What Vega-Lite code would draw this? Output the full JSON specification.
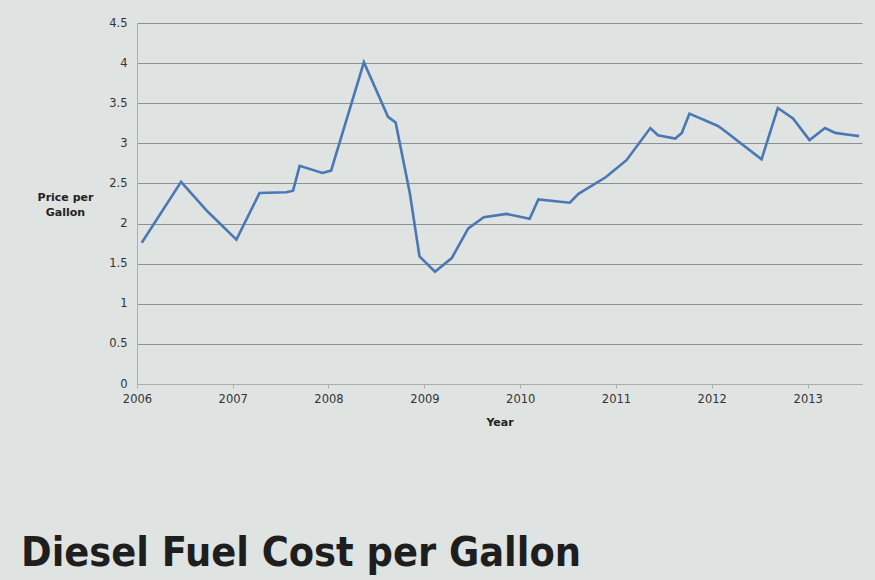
{
  "$schema": "https://vega.github.io/schema/vega-lite/v6.json",
  "width": 725,
  "height": 361,
  "autosize": "none",
  "padding": {"left": 137, "top": 23, "right": 13, "bottom": 196},
  "background": "#dfe3e2",
  "title": {
    "text": "Diesel Fuel Cost per Gallon",
    "orient": "bottom",
    "anchor": "start",
    "frame": "group",
    "dx": -116,
    "offset": 106,
    "font": "DejaVu Sans Condensed",
    "fontSize": 41,
    "fontWeight": "bold",
    "color": "#1e1e1e"
  },
  "config": {
    "view": {"stroke": null},
    "axis": {
      "labelFont": "DejaVu Sans",
      "labelFontSize": 11.5,
      "labelColor": "#333333",
      "titleFont": "DejaVu Sans",
      "titleFontSize": 11,
      "titleFontWeight": "bold",
      "titleColor": "#222222",
      "gridColor": "#8c9192",
      "gridWidth": 1,
      "domainColor": "#a9aeae",
      "tickColor": "#a9aeae"
    }
  },
  "data": {
    "values": [
      {"date": "2006-01-19", "price": 1.76},
      {"date": "2006-06-18", "price": 2.52},
      {"date": "2006-09-27", "price": 2.15},
      {"date": "2007-01-15", "price": 1.80},
      {"date": "2007-04-13", "price": 2.38},
      {"date": "2007-07-24", "price": 2.39},
      {"date": "2007-08-19", "price": 2.41},
      {"date": "2007-09-13", "price": 2.72},
      {"date": "2007-12-09", "price": 2.63},
      {"date": "2008-01-11", "price": 2.66},
      {"date": "2008-05-15", "price": 4.01},
      {"date": "2008-08-15", "price": 3.33},
      {"date": "2008-09-13", "price": 3.26},
      {"date": "2008-11-06", "price": 2.38},
      {"date": "2008-12-13", "price": 1.59},
      {"date": "2009-02-10", "price": 1.40},
      {"date": "2009-04-15", "price": 1.57},
      {"date": "2009-06-17", "price": 1.94},
      {"date": "2009-08-15", "price": 2.08},
      {"date": "2009-11-10", "price": 2.12},
      {"date": "2010-02-06", "price": 2.06},
      {"date": "2010-03-11", "price": 2.30},
      {"date": "2010-07-09", "price": 2.26},
      {"date": "2010-08-11", "price": 2.37},
      {"date": "2010-11-24", "price": 2.58},
      {"date": "2011-02-10", "price": 2.79},
      {"date": "2011-05-12", "price": 3.19},
      {"date": "2011-06-10", "price": 3.10},
      {"date": "2011-08-15", "price": 3.06},
      {"date": "2011-09-09", "price": 3.13},
      {"date": "2011-10-08", "price": 3.37},
      {"date": "2012-01-23", "price": 3.22},
      {"date": "2012-02-14", "price": 3.17},
      {"date": "2012-07-09", "price": 2.80},
      {"date": "2012-09-09", "price": 3.44},
      {"date": "2012-11-06", "price": 3.31},
      {"date": "2013-01-08", "price": 3.04},
      {"date": "2013-03-08", "price": 3.19},
      {"date": "2013-04-16", "price": 3.13},
      {"date": "2013-05-30", "price": 3.11},
      {"date": "2013-07-16", "price": 3.09}
    ]
  },
  "mark": {"type": "line", "color": "#4a78b5", "strokeWidth": 2.6, "strokeJoin": "miter"},
  "encoding": {
    "x": {
      "field": "date",
      "type": "temporal",
      "title": "Year",
      "scale": {"domain": ["2006-01-01", "2013-07-27"]},
      "axis": {
        "format": "%Y",
        "tickCount": {"interval": "year", "step": 1},
        "grid": false,
        "labelFlush": false,
        "tickSize": 4,
        "labelPadding": 5,
        "titlePadding": 12
      }
    },
    "y": {
      "field": "price",
      "type": "quantitative",
      "title": ["Price per", "Gallon"],
      "scale": {"domain": [0, 4.5]},
      "axis": {
        "values": [0, 0.5, 1, 1.5, 2, 2.5, 3, 3.5, 4, 4.5],
        "format": "~g",
        "ticks": false,
        "labelPadding": 10,
        "titleAngle": 0,
        "titleAlign": "center",
        "titleBaseline": "middle",
        "titleX": -72,
        "titleY": 174,
        "titleLineHeight": 15
      }
    }
  }
}
